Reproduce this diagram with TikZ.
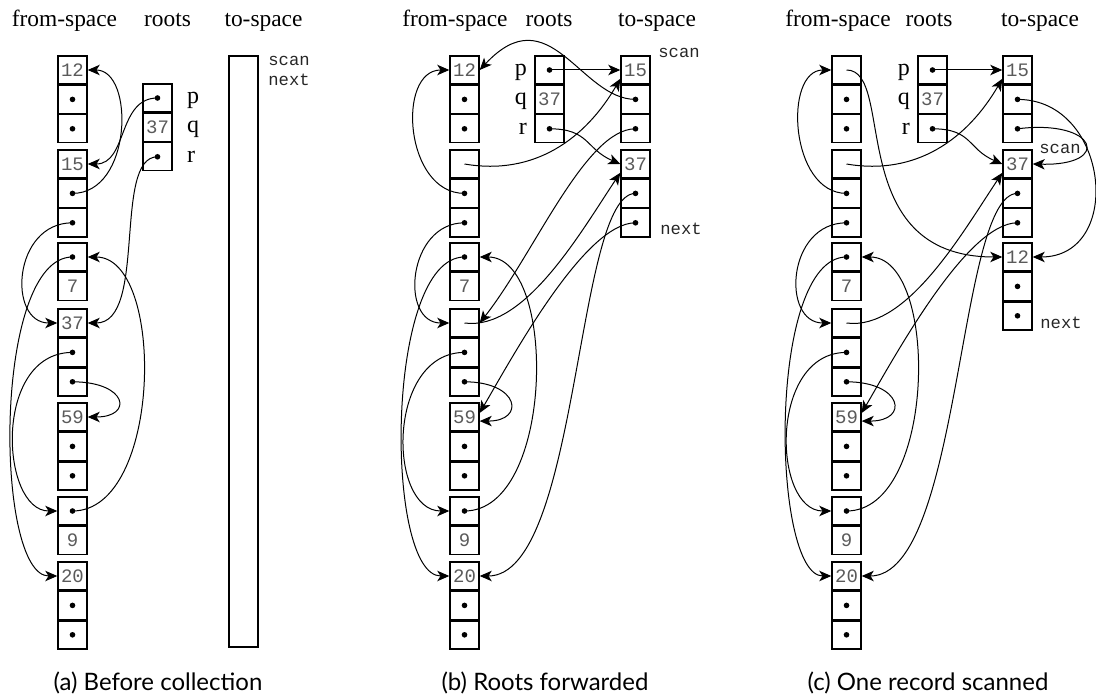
\documentclass[tikz,border=0pt]{standalone}
\usepackage{fontspec}
\setmainfont{Liberation Serif}
\setmonofont{Liberation Mono}
\setsansfont{Lato}
\usetikzlibrary{positioning,arrows.meta}
\definecolor{numgray}{HTML}{5A5A5A}

\begin{document}
\begin{tikzpicture}[x=0.5pt,y=-0.5pt,
  cell/.style={draw, line width=0.7pt, minimum width=14.5pt, minimum height=14pt, inner sep=0pt, font=\ttfamily\fontsize{9.5}{9.5}\selectfont, text=numgray},
  ptr/.style={cell, path picture={\fill[black] (path picture bounding box.center) circle (1.4pt);}},
  ref/.style={line width=0.5pt, -{Stealth[length=6pt,width=5.2pt,inset=1.6pt]}},
  head/.style={font=\fontsize{11.7}{13}\selectfont, anchor=base},
  capt/.style={font=\sffamily\fontsize{12}{14}\selectfont, anchor=base},
  rootlab/.style={font=\fontsize{12}{12}\selectfont, text height=1.6ex, text depth=0.4ex, inner sep=1pt},
  ptrname/.style={font=\ttfamily\fontsize{8.6}{9}\selectfont, text=black!85, anchor=west, inner sep=0pt}]
\useasboundingbox (0,0) rectangle (1096,700);

% (a) before collection
\node[head] (ahfrom) at (64.5,27) {from-space};
\node[head] (ahroots) at (167.5,27) {roots};
\node[head] (ahto) at (263.5,27) {to-space};
\node[cell] (a11) at (72.5,70) {12}; \node[ptr,below=0pt of a11] (a12) {}; \node[ptr,below=0pt of a12] (a13) {};
\node[cell] (a21) at (72.5,164) {15}; \node[ptr,below=0pt of a21] (a22) {}; \node[ptr,below=0pt of a22] (a23) {};
\node[ptr] (a31) at (72.5,257) {}; \node[cell,below=0pt of a31] (a32) {7};
\node[cell] (a41) at (72.5,323) {37}; \node[ptr,below=0pt of a41] (a42) {}; \node[ptr,below=0pt of a42] (a43) {};
\node[cell] (a51) at (72.5,417) {59}; \node[ptr,below=0pt of a51] (a52) {}; \node[ptr,below=0pt of a52] (a53) {};
\node[ptr] (a61) at (72.5,511) {}; \node[cell,below=0pt of a61] (a62) {9};
\node[cell] (a71) at (72.5,576) {20}; \node[ptr,below=0pt of a71] (a72) {}; \node[ptr,below=0pt of a72] (a73) {};
\node[ptr] (ap) at (157.5,98) {}; \node[cell,below=0pt of ap] (aq) {37}; \node[ptr,below=0pt of aq] (ar) {};
\node[rootlab,right=6pt of ap] {p};
\node[rootlab,right=6pt of aq] {q};
\node[rootlab,right=6pt of ar] {r};
\node[draw, line width=0.7pt, minimum width=14.5pt, minimum height=295.5pt, inner sep=0pt] (atospace) at (243.5,351.5) {};
\node[ptrname] (ascan) at (268,61) {scan};
\node[ptrname] (anext) at (268,80) {next};
\draw[ref] (a22.center) .. controls +(60,0) and +(47,0) .. (a11.east);
\draw[ref] (ap.center) .. controls +(-40,0) and +(40,0) .. (a21.east);
\draw[ref] (ar.center) .. controls +(-45,0) and +(60,0) .. (a41.east);
\draw[ref] (a23.center) .. controls +(-60,0) and +(-50,0) .. (a41.west);
\draw[ref] (a31.center) .. controls +(-80,0) and +(-63,0) .. (a71.west);
\draw[ref] (a42.center) .. controls +(-80,0) and +(-57,0) .. (a61.west);
\draw[ref] (a43.center) .. controls +(55,0) and +(46,0) .. (a51.east);
\draw[ref] (a61.center) .. controls +(90,0) and +(78,0) .. (a31.east);
\node[capt] (acap) at (158,690) {(a) Before collection};

% (b) roots forwarded
\node[head] (bhfrom) at (455,27) {from-space};
\node[head] (bhroots) at (549,27) {roots};
\node[head] (bhto) at (657,27) {to-space};
\node[cell] (b11) at (464.5,70) {12}; \node[ptr,below=0pt of b11] (b12) {}; \node[ptr,below=0pt of b12] (b13) {};
\node[cell] (b21) at (464.5,164) {}; \node[ptr,below=0pt of b21] (b22) {}; \node[ptr,below=0pt of b22] (b23) {};
\node[ptr] (b31) at (464.5,257) {}; \node[cell,below=0pt of b31] (b32) {7};
\node[cell] (b41) at (464.5,323) {}; \node[ptr,below=0pt of b41] (b42) {}; \node[ptr,below=0pt of b42] (b43) {};
\node[cell] (b51) at (464.5,417) {59}; \node[ptr,below=0pt of b51] (b52) {}; \node[ptr,below=0pt of b52] (b53) {};
\node[ptr] (b61) at (464.5,511) {}; \node[cell,below=0pt of b61] (b62) {9};
\node[cell] (b71) at (464.5,576) {20}; \node[ptr,below=0pt of b71] (b72) {}; \node[ptr,below=0pt of b72] (b73) {};
\node[ptr] (bp) at (549.5,70) {}; \node[cell,below=0pt of bp] (bq) {37}; \node[ptr,below=0pt of bq] (br) {};
\node[rootlab,left=2.5pt of bp] {p};
\node[rootlab,left=2.5pt of bq] {q};
\node[rootlab,left=2.5pt of br] {r};
\node[cell] (bt11) at (635.5,70) {15}; \node[ptr,below=0pt of bt11] (bt12) {}; \node[ptr,below=0pt of bt12] (bt13) {};
\node[cell] (bt21) at (635.5,164) {37}; \node[ptr,below=0pt of bt21] (bt22) {}; \node[ptr,below=0pt of bt22] (bt23) {};
\node[ptrname] (bscan) at (658,53) {scan};
\node[ptrname] (bnext) at (660,229) {next};
\draw[ref] (bp.center) -- (bt11.west);
\draw[ref] (br.center) .. controls +(40,0) and +(-35,-15) .. (bt21.west);
\draw[ref] (b21.center) .. controls +(70,12) and +(-35,60) .. (bt11.210);
\draw[ref] (bt12.center) .. controls +(-55,0) and +(70,-75) .. (b11.east);
\draw[ref] (bt13.center) .. controls +(-50,0) and +(55,-70) .. (b41.east);
\draw[ref] (b41.center) .. controls +(60,8) and +(-40,60) .. (bt21.210);
\draw[ref] (bt22.center) .. controls +(-60,0) and +(100,0) .. (b71.east);
\draw[ref] (bt23.center) .. controls +(-50,0) and +(35,-60) .. (b51.15);
\draw[ref] (b22.center) .. controls +(-60,0) and +(-53,0) .. (b11.west);
\draw[ref] (b23.center) .. controls +(-57,0) and +(-50,0) .. (b41.west);
\draw[ref] (b31.center) .. controls +(-80,0) and +(-65,0) .. (b71.west);
\draw[ref] (b42.center) .. controls +(-78,0) and +(-62,0) .. (b61.west);
\draw[ref] (b43.center) .. controls +(55,0) and +(46,0) .. (b51.-15);
\draw[ref] (b61.center) .. controls +(90,0) and +(78,0) .. (b31.east);
\node[capt] (bcap) at (545,690) {(b) Roots forwarded};

% (c) one record scanned
\node[head] (chfrom) at (838,27) {from-space};
\node[head] (chroots) at (929,27) {roots};
\node[head] (chto) at (1040,27) {to-space};
\node[cell] (c11) at (846.5,70) {}; \node[ptr,below=0pt of c11] (c12) {}; \node[ptr,below=0pt of c12] (c13) {};
\node[cell] (c21) at (846.5,164) {}; \node[ptr,below=0pt of c21] (c22) {}; \node[ptr,below=0pt of c22] (c23) {};
\node[ptr] (c31) at (846.5,257) {}; \node[cell,below=0pt of c31] (c32) {7};
\node[cell] (c41) at (846.5,323) {}; \node[ptr,below=0pt of c41] (c42) {}; \node[ptr,below=0pt of c42] (c43) {};
\node[cell] (c51) at (846.5,417) {59}; \node[ptr,below=0pt of c51] (c52) {}; \node[ptr,below=0pt of c52] (c53) {};
\node[ptr] (c61) at (846.5,511) {}; \node[cell,below=0pt of c61] (c62) {9};
\node[cell] (c71) at (846.5,576) {20}; \node[ptr,below=0pt of c71] (c72) {}; \node[ptr,below=0pt of c72] (c73) {};
\node[ptr] (cp) at (932.5,70) {}; \node[cell,below=0pt of cp] (cq) {37}; \node[ptr,below=0pt of cq] (cr) {};
\node[rootlab,left=2.5pt of cp] {p};
\node[rootlab,left=2.5pt of cq] {q};
\node[rootlab,left=2.5pt of cr] {r};
\node[cell] (ct11) at (1017.5,70) {15}; \node[ptr,below=0pt of ct11] (ct12) {}; \node[ptr,below=0pt of ct12] (ct13) {};
\node[cell] (ct21) at (1017.5,164) {37}; \node[ptr,below=0pt of ct21] (ct22) {}; \node[ptr,below=0pt of ct22] (ct23) {};
\node[cell] (ct31) at (1017.5,257) {12}; \node[ptr,below=0pt of ct31] (ct32) {}; \node[ptr,below=0pt of ct32] (ct33) {};
\node[ptrname] (cscan) at (1039,149) {scan};
\node[ptrname] (cnext) at (1040,323) {next};
\draw[ref] (cp.center) -- (ct11.west);
\draw[ref] (cr.center) .. controls +(40,0) and +(-35,-15) .. (ct21.west);
\draw[ref] (c11.center) .. controls +(50,0) and +(-160,0) .. (ct31.west);
\draw[ref] (c21.center) .. controls +(70,12) and +(-35,60) .. (ct11.210);
\draw[ref] (c41.center) .. controls +(60,8) and +(-40,60) .. (ct21.210);
\draw[ref] (c22.center) .. controls +(-57,0) and +(-48,0) .. (c11.west);
\draw[ref] (c23.center) .. controls +(-60,0) and +(-50,0) .. (c41.west);
\draw[ref] (c31.center) .. controls +(-80,0) and +(-60,0) .. (c71.west);
\draw[ref] (c42.center) .. controls +(-78,0) and +(-59,0) .. (c61.west);
\draw[ref] (c43.center) .. controls +(56,0) and +(48,0) .. (c51.-15);
\draw[ref] (c61.center) .. controls +(90,0) and +(78,0) .. (c31.east);
\draw[ref] (ct22.center) .. controls +(-60,0) and +(100,0) .. (c71.east);
\draw[ref] (ct23.center) .. controls +(-50,0) and +(35,-60) .. (c51.15);
\draw[ref] (ct12.center) .. controls +(92,0) and +(92,0) .. (ct31.east);
\draw[ref] (ct13.center) .. controls +(80,-10) and +(80,2) .. (ct21.east);
\node[capt] (ccap) at (928,690) {(c) One record scanned};
\end{tikzpicture}
\end{document}
